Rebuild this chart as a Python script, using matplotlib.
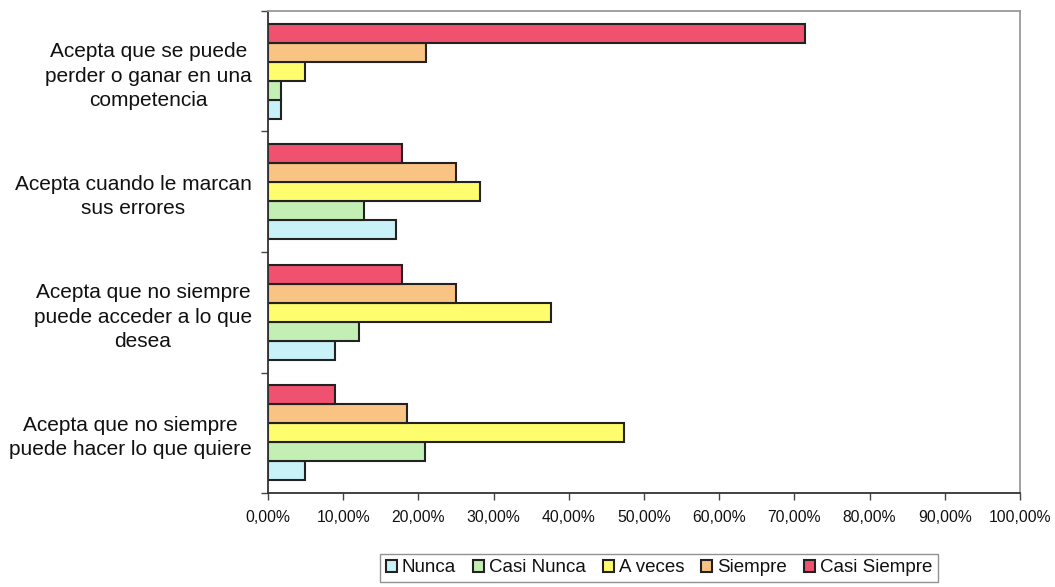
import numpy as np
import matplotlib.pyplot as plt
from matplotlib.ticker import FuncFormatter, FixedLocator

plt.rcParams['font.family'] = ['Liberation Sans', 'DejaVu Sans']

# categorias de arriba hacia abajo
categorias = [
    "Acepta que se puede\nperder o ganar en una\ncompetencia",
    "Acepta cuando le marcan\nsus errores",
    "Acepta que no siempre\npuede acceder a lo que\ndesea",
    "Acepta que no siempre\npuede hacer lo que quiere",
]
series = ["Nunca", "Casi Nunca", "A veces", "Siempre", "Casi Siempre"]
# porcentajes por categoria (mismo orden que categorias)
nunca = [1.7, 17.0, 8.9, 4.9]
casi_nunca = [1.7, 12.8, 12.1, 20.9]
a_veces = [4.9, 28.2, 37.6, 47.3]
siempre = [21.0, 25.0, 25.0, 18.5]
casi_siempre = [71.4, 17.8, 17.8, 8.9]
colores = ["#c9f1f8", "#c3efb4", "#fdfd6e", "#f8c383", "#ef516f"]

valores = [nunca, casi_nunca, a_veces, siempre, casi_siempre]

fig = plt.figure(figsize=(10.55, 5.87), dpi=100)
ax = fig.add_axes([0.254, 0.1601, 0.7128, 0.8212])

n = len(categorias)
y = np.arange(n)[::-1]  # primera categoria arriba
h = 0.157
for j, (nombre, vals) in enumerate(zip(series, valores)):
    ax.barh(y + (j - 2) * h, vals, height=h, color=colores[j],
            edgecolor="#222222", linewidth=1.5, label=nombre)

ax.set_xlim(0, 100)
ax.set_ylim(-0.5, n - 0.5)
ax.set_xticks(np.arange(0, 101, 10))
ax.xaxis.set_major_formatter(FuncFormatter(lambda v, p: f"{v:.2f}%".replace(".", ",")))
ax.tick_params(axis="x", direction="out", length=5, width=1, color="#444444",
               labelsize=11.3, pad=7, labelcolor="#111111")

ax.set_yticks(y)
ax.set_yticklabels(categorias, ha="right", multialignment="center",
                   fontsize=15, color="#111111", linespacing=1.37)
ax.tick_params(axis="y", which="major", length=0, pad=11.5)
ax.yaxis.set_minor_locator(FixedLocator(np.arange(-0.5, n, 1.0)))
ax.tick_params(axis="y", which="minor", length=5, width=1, color="#444444",
               direction="out")

for s in ["left", "bottom"]:
    ax.spines[s].set_color("#333333")
    ax.spines[s].set_linewidth(1.3)
for s in ["top", "right"]:
    ax.spines[s].set_color("#9a9a9a")
    ax.spines[s].set_linewidth(1.3)

leg = fig.legend(loc="center", bbox_to_anchor=(659 / 1055, 1 - 568 / 587), ncol=5,
                 frameon=True, fancybox=False, edgecolor="#777777", fontsize=13.5,
                 handlelength=0.6, handleheight=0.6, handletextpad=0.25,
                 columnspacing=0.9, borderpad=0.3)
for t in leg.get_texts():
    t.set_color("#111111")

fig.savefig("out.png", dpi=100)
